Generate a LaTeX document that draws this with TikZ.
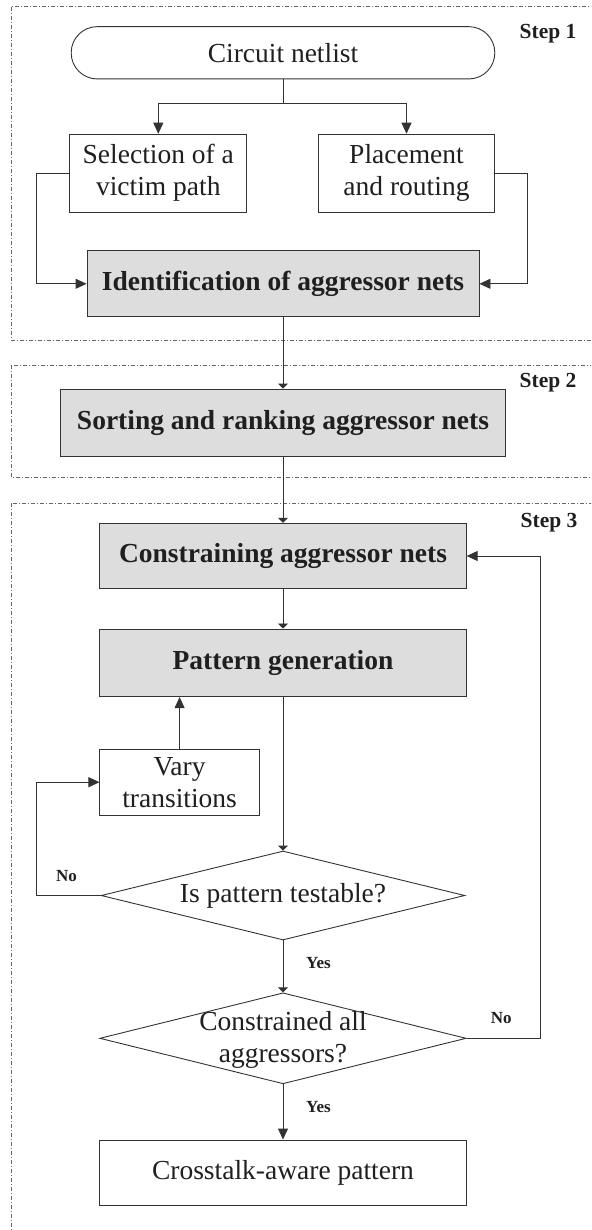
\documentclass[tikz,border=0pt]{standalone}
\usepackage{fontspec}
\setmainfont{Liberation Serif}
\usetikzlibrary{arrows.meta,shapes.geometric}

\definecolor{inkline}{HTML}{333333}
\definecolor{boxgray}{HTML}{DDDDDD}
\definecolor{framegray}{HTML}{666666}

\tikzset{
  every node/.style={text=black!88, inner sep=0pt},
  plainbox/.style={draw=inkline, line width=0.9pt, align=center,
    font=\fontsize{27.5}{32}\selectfont},
  graybox/.style={plainbox, fill=boxgray, font=\bfseries\fontsize{27.5}{32}\selectfont},
  decision/.style={draw=inkline, line width=0.9pt, diamond},
  steplabel/.style={font=\bfseries\fontsize{21.5}{24}\selectfont},
  answer/.style={font=\bfseries\fontsize{17}{20}\selectfont},
  link/.style={draw=inkline, line width=0.9pt},
  bigarrow/.style={link, -{Triangle[length=11pt,width=10pt]}},
  smallarrow/.style={link, -{Triangle[length=5pt,width=10pt]}},
  stageframe/.style={draw=framegray, line width=0.7pt,
    dash pattern=on 4pt off 2pt on 1pt off 2pt}
}

\begin{document}
\begin{tikzpicture}[x=1pt, y=-1pt]
  \useasboundingbox (0,0) rectangle (591,1230);
  \clip (0,0) rectangle (591,1230);

  % stage frames (open towards the right and bottom)
  \draw[stageframe] (11.3,6.7) rectangle (600,340);
  \draw[stageframe] (11.3,365) rectangle (600,477.3);
  \draw[stageframe] (11.3,503.3) rectangle (600,1245);

  \node[steplabel] (s1) at (548,33.3) {Step 1};
  \node[steplabel] (s2) at (548,383) {Step 2};
  \node[steplabel] (s3) at (549,522.7) {Step 3};

  % step 1
  \node[plainbox, rounded corners=26pt, minimum width=423.6pt, minimum height=52.3pt]
    (net) at (283,52.8) {Circuit netlist};
  \node[plainbox, minimum width=177.2pt, minimum height=78pt]
    (sel) at (158.3,173.2) {Selection of a\\victim path};
  \node[plainbox, minimum width=176pt, minimum height=78pt]
    (pla) at (406.5,173.2) {Placement\\and routing};
  \node[graybox, minimum width=392pt, minimum height=65.7pt]
    (ident) at (283,283.8) {Identification of aggressor nets};

  % step 2
  \node[graybox, minimum width=444.8pt, minimum height=67pt]
    (sort) at (283,422.5) {Sorting and ranking aggressor nets};

  % step 3
  \node[graybox, minimum width=366.4pt, minimum height=65.4pt]
    (cons) at (283,556) {Constraining aggressor nets};
  \node[graybox, minimum width=366.4pt, minimum height=67.7pt]
    (pat) at (283,662.8) {Pattern generation};
  \node[plainbox, minimum width=159.4pt, minimum height=65.7pt]
    (vary) at (179.6,782.2) {Vary\\transitions};
  \node[decision, minimum width=363.7pt, minimum height=89pt]
    (d1) at (283,895.5) {};
  \node[font=\fontsize{27.5}{32}\selectfont] (d1t) at (d1) {Is pattern testable?};
  \node[decision, minimum width=366.4pt, minimum height=91pt]
    (d2) at (283,1038.3) {};
  \node[font=\fontsize{27.5}{32}\selectfont, align=center] (d2t) at (283,1040)
    {Constrained all\\aggressors?};
  \node[plainbox, minimum width=366.4pt, minimum height=65pt]
    (cross) at (283,1172.5) {Crosstalk-aware pattern};

  % connectors
  \coordinate (split) at (283,103.3);
  \coordinate (lc) at (36.6,283.8);
  \coordinate (rc) at (527,283.8);
  \coordinate (nc) at (36.9,782.2);
  \coordinate (fc) at (540.1,556);

  \draw[link] (net.south) -- (split);
  \draw[bigarrow] (split) -| (sel.north);
  \draw[bigarrow] (split) -| (pla.north);
  \draw[bigarrow] (sel.west) -| (lc) -- (ident.west);
  \draw[bigarrow] (pla.east) -| (rc) -- (ident.east);
  \draw[smallarrow] (ident.south) -- (sort.north);
  \draw[smallarrow] (sort.south) -- (cons.north);
  \draw[smallarrow] (cons.south) -- (pat.north);
  \draw[smallarrow] (pat.south) -- (d1.north);
  \draw[bigarrow] (d1.west) -| (nc) -- (vary.west);
  \draw[bigarrow] (vary.north) -- (vary.north |- pat.south);
  \draw[smallarrow] (d1.south) -- (d2.north);
  \draw[bigarrow] (d2.east) -| (fc) -- (cons.east);
  \draw[bigarrow] (d2.south) -- (cross.north);

  \node[answer] (no1) at (66.5,876) {No};
  \node[answer] (yes1) at (318.5,963.3) {Yes};
  \node[answer] (no2) at (501.3,1018.3) {No};
  \node[answer] (yes2) at (318.5,1106.7) {Yes};
\end{tikzpicture}
\end{document}
